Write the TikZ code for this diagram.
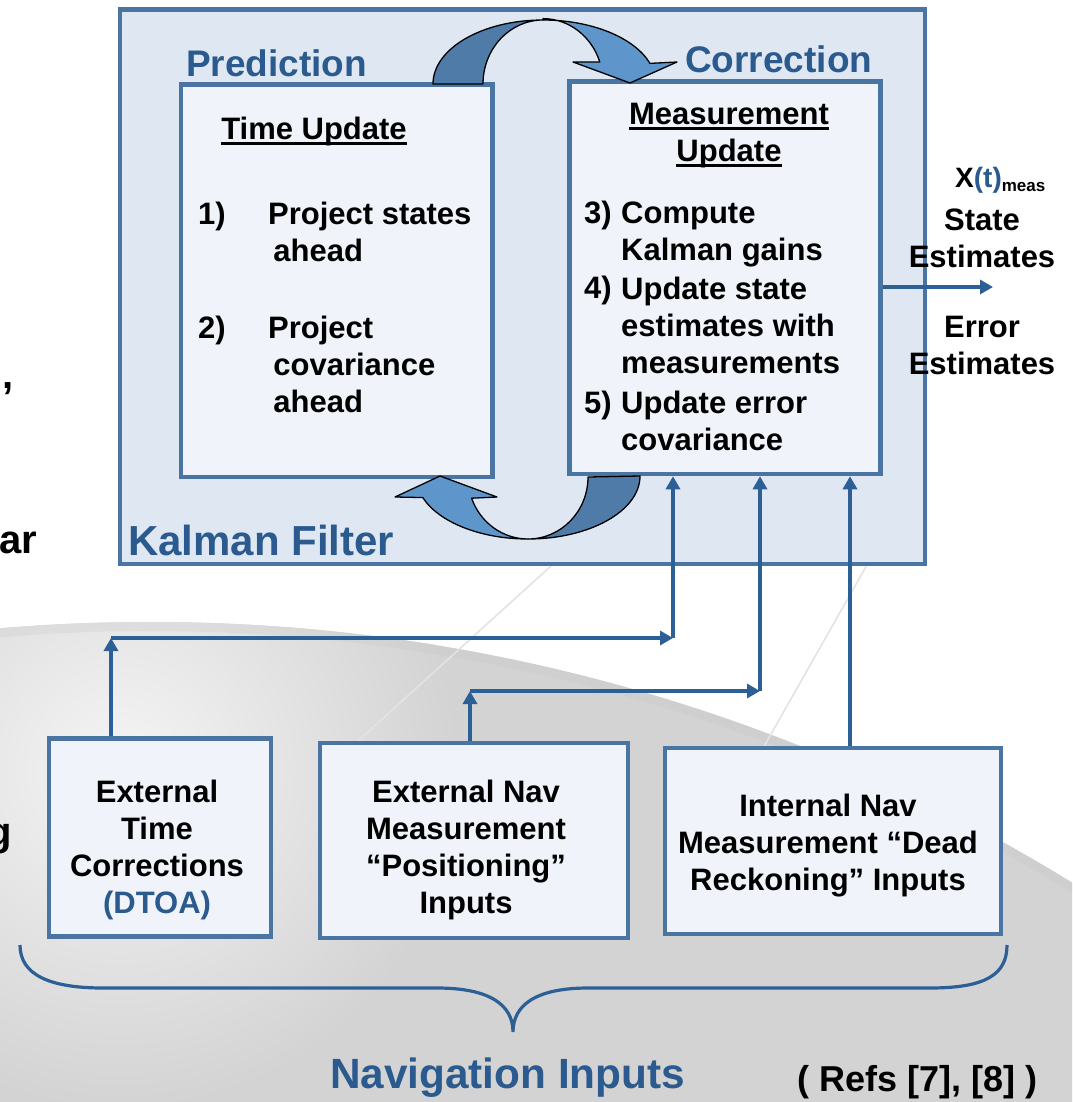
\documentclass[tikz,border=0pt]{standalone}
\usepackage{fontspec}
\setmainfont{Liberation Sans}
\usetikzlibrary{arrows.meta}

\definecolor{kfFill}{HTML}{DFE8F2}
\definecolor{boxFill}{HTML}{F0F4FA}
\definecolor{boxLine}{HTML}{4A74A2}
\definecolor{titleBlue}{HTML}{2B5A8E}
\definecolor{linkBlue}{HTML}{2C5F96}
\definecolor{bandDark}{HTML}{4F7BA8}
\definecolor{bandLight}{HTML}{5E96CB}
\definecolor{earth}{HTML}{D3D3D3}

% underline drawn close to the baseline
\newsavebox\ulsave
\newcommand\ulword[1]{\sbox\ulsave{#1}\rlap{\rule[-5pt]{\wd\ulsave}{2.6pt}}\usebox\ulsave}

% multi-line nodes are placed by the baseline of their last line
\tikzset{
  kfbox/.style={draw=boxLine, line width=4.5, fill=kfFill, inner sep=0},
  inbox/.style={draw=boxLine, line width=4.5, fill=boxFill, inner sep=0},
  body/.style={font=\fontsize{31}{37}\selectfont\bfseries, inner sep=0, text=black},
  title/.style={font=\fontsize{37}{40}\selectfont\bfseries, inner sep=0, text=titleBlue},
  link/.style={draw=linkBlue, line width=3.5, -{Triangle[length=13pt,width=14pt]}},
  band/.style={draw=black, line width=1.3, line join=round}
}

\begin{document}
\begin{tikzpicture}[x=1pt, y=-1pt]
\useasboundingbox (0,0) rectangle (1072,1102);

% backdrop: white sky with a grey globe below
\fill[white] (0,0) rectangle (1072,1102);
\begin{scope}
  \clip (0,0) rectangle (1072,1102);
  \fill[earth] (150,2382) circle (1760);
  \begin{scope}
    \clip (150,2382) circle (1760);
    \shade[inner color=gray!8, outer color=earth] (120,770) circle (340);
    \draw[gray!45, line width=10, opacity=0.25] (150,2382) circle (1756);
  \end{scope}
  \draw[gray!22, line width=1.6] (562,556) -- (348,750);
  \draw[gray!22, line width=1.6] (872,556) -- (762,750);
\end{scope}

% clipped text at the left edge
\node[body, font=\fontsize{40}{44}\selectfont\bfseries, anchor=base west] (c1) at (2,388) {,};
\node[body, font=\fontsize{40}{44}\selectfont\bfseries, anchor=base west] (c2) at (-1,553) {ar};
\node[body, font=\fontsize{40}{44}\selectfont\bfseries, anchor=base east] (c3) at (12,845) {g};

% Kalman filter frame and its two stages
\node[kfbox, minimum width=805, minimum height=554.5] (kf) at (522.5,286.75) {};
\node[inbox, minimum width=311.5, minimum height=392.5] (pred) at (336.75,280.75) {};
\node[inbox, minimum width=311, minimum height=392.5] (corr) at (725,277.75) {};

\node[title, anchor=base west] (predT) at (186,77) {Prediction};
\node[title, anchor=base west] (corrT) at (685,73) {Correction};
\node[title, font=\fontsize{42}{46}\selectfont\bfseries, anchor=base west] (kfT) at (128,555) {Kalman Filter};

% time update
\node[body, anchor=base] (tu) at (314,140) {\ulword{Time Update}};
\node[body, anchor=base west] (n1) at (198,224) {1)};
\node[body, anchor=base west, align=left] (s1) at (268,261) {Project states\\\,ahead};
\node[body, anchor=base west] (n2) at (198,338) {2)};
\node[body, anchor=base west, align=left] (s2) at (268,412) {Project\\\,covariance\\\,ahead};

% measurement update
\node[body, anchor=base, align=center] (mu) at (729,162) {\ulword{Measurement}\\\ulword{Update}};
\node[body, anchor=base west] (n3) at (584,223) {3)};
\node[body, anchor=base west, align=left] (s3) at (621,260) {Compute\\Kalman gains};
\node[body, anchor=base west] (n4) at (584,298) {4)};
\node[body, anchor=base west, align=left] (s4) at (621,373) {Update state\\estimates with\\measurements};
\node[body, anchor=base west] (n5) at (584,413) {5)};
\node[body, anchor=base west, align=left] (s5) at (621,450) {Update error\\covariance};

% loop arrows between the stages
\filldraw[band, fill=bandDark]
  (433,84) arc[start angle=180, end angle=270, x radius=110, y radius=64]
  arc[start angle=270, end angle=180, x radius=60, y radius=64] -- cycle;
\filldraw[band, fill=bandLight]
  (543,20) arc[start angle=270, end angle=341.2, x radius=113, y radius=64]
  -- (677,62) -- (630,83) -- (573,62) -- (599.8,62)
  arc[start angle=341.2, end angle=270, x radius=60, y radius=64] -- cycle;

\filldraw[band, fill=bandDark]
  (640,476) arc[start angle=0, end angle=90, x radius=112, y radius=63]
  arc[start angle=90, end angle=0, x radius=60, y radius=62] -- cycle;
\filldraw[band, fill=bandLight]
  (528,539) arc[start angle=90, end angle=160, x radius=112, y radius=63]
  -- (395,497) -- (440,476) -- (497,497) -- (471.6,498.2)
  arc[start angle=160, end angle=90, x radius=60, y radius=62] -- cycle;

% outputs
\coordinate (out) at (993,287);
\draw[link] (corr.east |- out) -- (out);
\node[body, font=\fontsize{28}{30}\selectfont\bfseries, anchor=base west] (xt) at (955,187)
  {X\textcolor{titleBlue}{(t)}{\fontsize{17}{18}\selectfont\raisebox{-4pt}{meas}}};
\node[body, anchor=base, align=center] (se) at (982,267) {State\\Estimates};
\node[body, anchor=base, align=center] (ee) at (982,374) {Error\\Estimates};

% navigation input boxes
\node[inbox, minimum width=222, minimum height=198] (etc) at (160,837.5) {};
\node[inbox, minimum width=308, minimum height=195] (enm) at (474,840.5) {};
\node[inbox, minimum width=336, minimum height=186] (inm) at (833,841) {};

\node[body, anchor=base, align=center] (etcT) at (157,913)
  {External\\Time\\Corrections\\\textcolor{titleBlue}{(DTOA)}};
\node[body, anchor=base, align=center] (enmT) at (466,913)
  {External Nav\\Measurement\\“Positioning”\\Inputs};
\node[body, anchor=base, align=center] (inmT) at (828,890)
  {Internal Nav\\Measurement “Dead\\Reckoning” Inputs};

% measurement feeds into the correction stage
\coordinate (a1) at (111,638);
\coordinate (a2) at (673,638);
\coordinate (b1) at (470,691);
\coordinate (b2) at (760,691);
\draw[link] (etc.north -| a1) -- (a1);
\draw[link] (a1) -- (a2);
\draw[link] (a2) -- (a2 |- corr.south);
\draw[link] (enm.north -| b1) -- (b1);
\draw[link] (b1) -- (b2);
\draw[link] (b2) -- (b2 |- corr.south);
\coordinate (c0) at (850,700);
\draw[link] (inm.north -| c0) -- (c0 |- corr.south);

% grouping brace and captions
\draw[linkBlue, line width=3.2]
  (20,945) .. controls (20,975) and (50,988) .. (103,988) -- (437,988)
  .. controls (490,988) and (513,1005) .. (513,1032)
  .. controls (513,1005) and (536,988) .. (588,988) -- (930,988)
  .. controls (985,988) and (1007,975) .. (1007,945);
\node[title, font=\fontsize{42.3}{46}\selectfont\bfseries, anchor=base west] (nav) at (330,1088) {Navigation Inputs};
\node[body, font=\fontsize{36}{40}\selectfont\bfseries, anchor=base west] (refs) at (797,1091) {( Refs [7], [8] )};

\end{tikzpicture}
\end{document}
